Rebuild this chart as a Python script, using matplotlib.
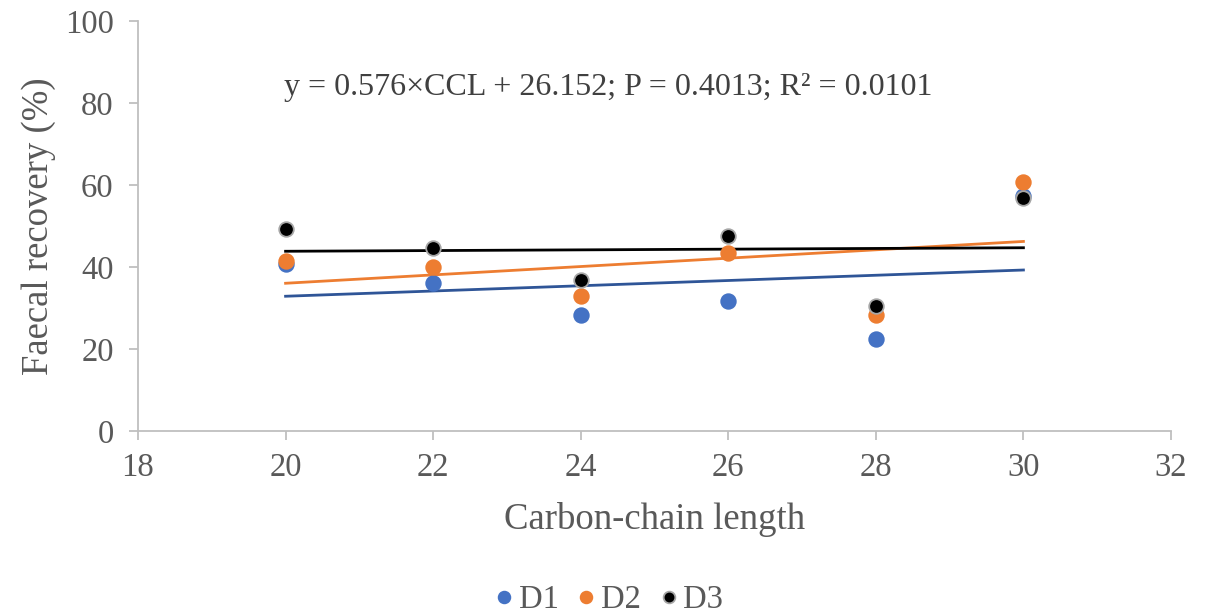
import numpy as np
import matplotlib
matplotlib.use("Agg")
import matplotlib.pyplot as plt

ccl = [20, 22, 24, 26, 28, 30]
d1 = [40.7, 36.1, 28.3, 31.7, 22.4, 57.2]
d2 = [41.5, 40.0, 32.9, 43.4, 28.3, 60.7]
d3 = [49.3, 44.6, 36.8, 47.6, 30.5, 56.8]
series_names = ["D1", "D2", "D3"]
equation = "y = 0.576×CCL + 26.152; P = 0.4013; R² = 0.0101"

plt.rcParams['font.family'] = ['Liberation Serif', 'DejaVu Serif']

fig = plt.figure(figsize=(12.06, 6.15), dpi=100)
ax = fig.add_axes([138/1206, 1-431/615, (1171-138)/1206, (431-21)/615])

marker_colors = ["#4472C4", "#ED7D31", "#000000"]
edge_colors = ["#4472C4", "#ED7D31", "#A6A6A6"]
line_colors = ["#2F5597", "#ED7D31", "#000000"]

x = np.array(ccl, dtype=float)
for ys, name, mc, ec, lc in zip([d1, d2, d3], series_names, marker_colors, edge_colors, line_colors):
    ys = np.array(ys)
    ax.plot(x, ys, 'o', ms=10.5, mfc=mc, mec=ec, mew=1.3, label=name, zorder=3, linestyle='none')
    k, b = np.polyfit(x, ys, 1)
    ax.plot([x.min(), x.max()], [k*x.min()+b, k*x.max()+b], color=lc, lw=2, zorder=2)

ax.set_xlim(18, 32)
ax.set_ylim(0, 100)
ax.set_xticks(range(18, 33, 2))
ax.set_yticks(range(0, 101, 20))
for s in ['top', 'right']:
    ax.spines[s].set_visible(False)
for s in ['left', 'bottom']:
    ax.spines[s].set_color('#BFBFBF')
    ax.spines[s].set_linewidth(1.3)
ax.tick_params(axis='both', colors='#BFBFBF', labelcolor='#595959', labelsize=23.5, length=6.5, width=1.3, direction='out')
ax.tick_params(axis='x', pad=9)
ax.tick_params(axis='y', pad=11)

ax.set_xlabel("Carbon-chain length", fontsize=26.5, color='#595959', labelpad=13.5)
ax.set_ylabel("Faecal recovery (%)", fontsize=26.5, color='#595959', labelpad=6)

ax.text(19.98, 83.8, equation, fontsize=23, color='#404040', va='center', ha='left')

leg = fig.legend(loc='center', bbox_to_anchor=(608/1206, 1-600/615), ncol=3, frameon=False,
                 fontsize=23.5, handlelength=0.7, handletextpad=0.1, columnspacing=0.5, markerscale=0.8,
                 borderpad=0)
for t in leg.get_texts():
    t.set_color('#595959')

fig.savefig("out.png", dpi=100)
